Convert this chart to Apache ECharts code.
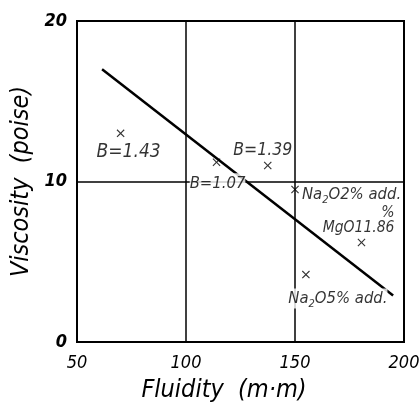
<!DOCTYPE html>
<html>
<head>
<meta charset="utf-8">
<script src="https://cdn.jsdelivr.net/npm/echarts@6/dist/echarts.min.js"></script>
<style>
  html, body { margin: 0; padding: 0; background: #fff; }
  #main { width: 419px; height: 407px; }
</style>
</head>
<body>
<div id="main"></div>
<script>
// measured points (fluidity mm, viscosity poise)
const fluidity = [70, 114, 137.5, 150, 180.5, 155];
const viscosity = [13, 11.2, 11, 9.5, 6.2, 4.2];
const pointNames = ['B=1.43', 'B=1.07', 'B=1.39', 'Na{s|2}O2% add.', '%\nMgO11.86', 'Na{s|2}O5% add.'];

// fitted line end points
const lineX = [61.5, 195];
const lineY = [17, 2.9];

const xTicks = [50, 100, 150, 200];
const yTicks = [0, 10, 20];

const font = '"Liberation Sans Narrow", "DejaVu Sans Condensed", sans-serif';

// where each label sits relative to its marker
const labelPos = [
  { offset: [8, 19], size: 19 },
  { offset: [1, 21], size: 16.5 },
  { offset: [-5, -15], size: 17.5 },
  { offset: [7, 5], align: 'left', size: 16.5 },
  { offset: [33, -7], align: 'right', verticalAlign: 'bottom', lineHeight: 15, size: 15.5 },
  { offset: [32, 24], size: 16.5 }
];

var myChart = echarts.init(document.getElementById('main'));

var pts = fluidity.map(function (x, i) {
  var lp = labelPos[i];
  return {
    value: [x, viscosity[i]],
    label: {
      show: true,
      position: 'inside',
      formatter: pointNames[i],
      offset: lp.offset,
      align: lp.align || 'center',
      verticalAlign: lp.verticalAlign || 'middle',
      lineHeight: lp.lineHeight || 20,
      fontSize: lp.size,
      color: '#000',
      backgroundColor: '#fff'
    }
  };
});

var option = {
  backgroundColor: '#fff',
  animation: false,
  grid: {
    left: 77, right: 15, top: 21, bottom: 65,
    outerBoundsMode: 'none',
    show: true, borderColor: '#000', borderWidth: 2
  },
  xAxis: {
    type: 'value',
    min: xTicks[0], max: xTicks[xTicks.length - 1], interval: 50,
    name: 'Fluidity  (m·m)',
    nameLocation: 'middle',
    nameGap: 36,
    nameTextStyle: { fontFamily: font, fontStyle: 'italic', fontSize: 25, color: '#000', padding: [0, 33, 0, 0] },
    axisLine: { lineStyle: { color: '#000', width: 2 } },
    axisTick: { show: false },
    axisLabel: { fontFamily: font, fontStyle: 'italic', fontSize: 18, color: '#000', margin: 12 },
    splitLine: { show: true, lineStyle: { color: '#000', width: 1.5 } }
  },
  yAxis: {
    type: 'value',
    min: yTicks[0], max: yTicks[yTicks.length - 1], interval: 10,
    name: 'Viscosity  (poise)',
    nameLocation: 'middle',
    nameGap: 43,
    nameTextStyle: { fontFamily: font, fontStyle: 'italic', fontSize: 25, color: '#000' },
    axisLine: { lineStyle: { color: '#000', width: 2 } },
    axisTick: { show: false },
    axisLabel: { fontFamily: font, fontStyle: 'italic', fontWeight: 'bold', fontSize: 18, color: '#000', margin: 10 },
    splitLine: { show: true, lineStyle: { color: '#000', width: 1.5 } }
  },
  series: [
    {
      type: 'line',
      data: lineX.map(function (x, i) { return [x, lineY[i]]; }),
      showSymbol: false,
      lineStyle: { color: '#000', width: 2.5 },
      z: 3
    },
    {
      type: 'scatter',
      symbol: 'path://M0,1L1,0L5,4L9,0L10,1L6,5L10,9L9,10L5,6L1,10L0,9L4,5Z',
      symbolSize: 8,
      itemStyle: { color: '#000' },
      label: {
        fontFamily: font, fontStyle: 'italic', fontSize: 19, color: '#000',
        rich: { s: { fontFamily: font, fontStyle: 'italic', fontSize: 11, color: '#000', padding: [11, 0, 0, 0] } }
      },
      data: pts,
      z: 4
    }
  ]
};

myChart.setOption(option);
</script>
</body>
</html>
